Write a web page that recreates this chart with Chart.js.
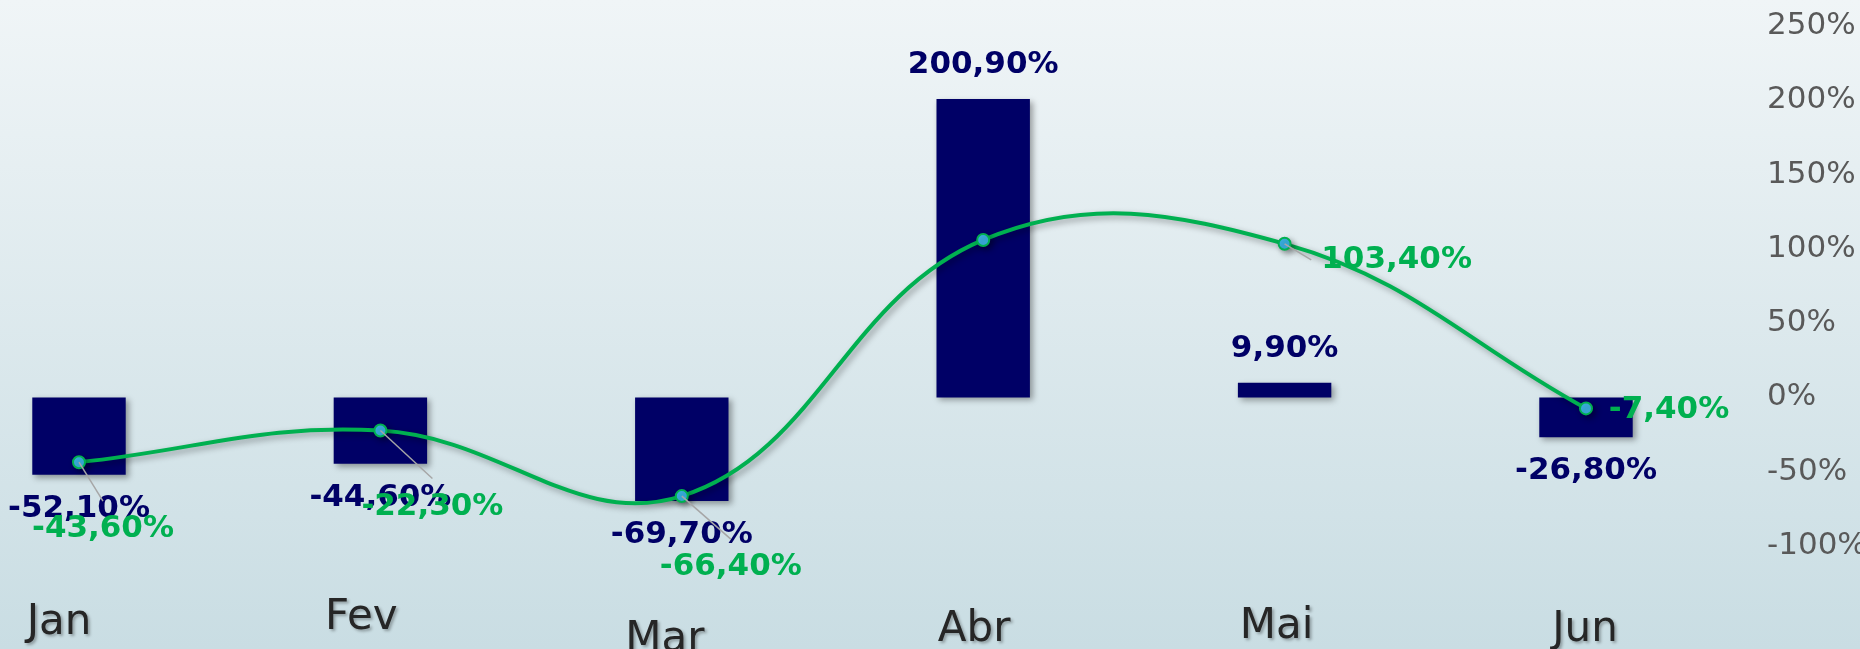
<!DOCTYPE html>
<html>
<head>
<meta charset="utf-8">
<script src="https://cdn.jsdelivr.net/npm/chart.js@4/dist/chart.umd.min.js"></script>
<style>
  html, body { margin: 0; padding: 0; }
  body { width: 1860px; height: 649px; overflow: hidden;
         background: linear-gradient(to bottom, #f0f5f7 0%, #c9dde3 100%); }
  #wrap { position: relative; width: 1860px; height: 649px; }
</style>
</head>
<body>
<div id="wrap"><canvas id="chart"></canvas></div>
<script>
'use strict';

// data
let months = ['Jan', 'Fev', 'Mar', 'Abr', 'Mai', 'Jun'];
let barValues = [-52.1, -44.6, -69.7, 200.9, 9.9, -26.8];
let lineValues = [-43.6, -22.3, -66.4, 106, 103.4, -7.4];
let yTicks = [-100, -50, 0, 50, 100, 150, 200, 250];

// styling
const navy = '#000066';
const green = '#00b050';
const fontFamily = '"DejaVu Sans", sans-serif';
const barLabelGap = 34;
// where Excel put the line labels, relative to the point (null = no label)
const lineLabelOffsets = [[24, 67], [52, 76], [49, 71], null, [112, 16], [83, 2]];
// the month labels are a bit out of line in the original
const xLabelShift = [[-20, 0], [-19, -5], [-17, 17], [-9, 7], [-8, 4], [-1, 7]];

function fmt(v) {
  return v.toFixed(2).replace('.', ',') + '%';
}

const shadowPlugin = {
  id: 'shadow',
  beforeDatasetDraw(chart) {
    const c = chart.ctx;
    c.save();
    c.shadowColor = 'rgba(0,0,0,0.35)';
    c.shadowBlur = 6;
    c.shadowOffsetX = 3;
    c.shadowOffsetY = 3;
  },
  afterDatasetDraw(chart) {
    chart.ctx.restore();
  }
};

// axis labels drawn by hand: right axis left aligned far from the plot, months shifted
const axisLabelPlugin = {
  id: 'axisLabels',
  afterDraw(chart) {
    const c = chart.ctx;
    const y = chart.scales.y;
    const x = chart.scales.x;
    c.save();
    c.font = '31px ' + fontFamily;
    c.fillStyle = '#595959';
    c.textAlign = 'left';
    c.textBaseline = 'middle';
    yTicks.forEach(v => {
      c.fillText(v + '%', 1767, y.getPixelForValue(v));
    });

    c.font = '42px ' + fontFamily;
    c.fillStyle = '#262626';
    c.textAlign = 'center';
    c.shadowColor = 'rgba(0,0,0,0.3)';
    c.shadowBlur = 3;
    c.shadowOffsetX = 2;
    c.shadowOffsetY = 2;
    months.forEach((m, i) => {
      let s = xLabelShift[i];
      c.fillText(m, x.getPixelForValue(i) + s[0], x.bottom - 26 + s[1]);
    });
    c.restore();
  }
};

const labelPlugin = {
  id: 'valueLabels',
  afterDatasetsDraw(chart) {
    const ctx = chart.ctx;
    ctx.save();
    ctx.font = 'bold 31px ' + fontFamily;
    ctx.textAlign = 'center';
    ctx.textBaseline = 'middle';

    chart.getDatasetMeta(0).data.forEach((bar, i) => {
      let v = barValues[i];
      let y = bar.y + (v < 0 ? barLabelGap : -barLabelGap);
      ctx.fillStyle = navy;
      ctx.fillText(fmt(v), bar.x, y);
    });

    chart.getDatasetMeta(1).data.forEach((pt, i) => {
      let off = lineLabelOffsets[i];
      if (!off) return;
      let lx = pt.x + off[0];
      let ly = pt.y + off[1];
      let text = fmt(lineValues[i]);
      let w = ctx.measureText(text).width;
      let ex, ey;
      if (off[1] > 40) {
        ex = lx; ey = ly - 28;
      } else {
        ex = lx - w / 2 - 10; ey = ly;
      }
      if (off[0] > 0 && Math.hypot(ex - pt.x, ey - pt.y) > 25) {
        ctx.strokeStyle = '#a6a6a6';
        ctx.lineWidth = 1.5;
        ctx.beginPath();
        ctx.moveTo(pt.x, pt.y);
        ctx.lineTo(ex, ey);
        ctx.stroke();
      }
      ctx.fillStyle = green;
      ctx.fillText(text, lx, ly);
    });
    ctx.restore();
  }
};

const ctx = document.getElementById('chart');

let config = {
  data: {
    labels: months,
    datasets: [
      {
        type: 'bar',
        data: barValues,
        backgroundColor: navy,
        barPercentage: 0.31,
        categoryPercentage: 1,
        clip: false,
        order: 2
      },
      {
        type: 'line',
        data: lineValues,
        borderColor: green,
        borderWidth: 4,
        tension: 0.4,
        pointRadius: 6,
        pointBackgroundColor: '#3bb4e5',
        pointBorderColor: green,
        pointBorderWidth: 2,
        clip: false,
        order: 1
      }
    ]
  },
  options: {
    responsive: true,
    maintainAspectRatio: false,
    animation: false,
    layout: { padding: { left: 79, top: 26, right: 0, bottom: 0 } },
    plugins: {
      legend: { display: false },
      tooltip: { enabled: false }
    },
    scales: {
      x: {
        offset: false,
        grid: { display: false, drawTicks: false },
        border: { display: false },
        ticks: { display: false },
        afterFit(scale) { scale.height = 103; }
      },
      y: {
        position: 'right',
        min: yTicks[0],
        max: yTicks[yTicks.length - 1],
        grid: { display: false, drawTicks: false },
        border: { display: false },
        ticks: { display: false },
        afterFit(scale) { scale.width = 274; }
      }
    }
  },
  plugins: [shadowPlugin, labelPlugin, axisLabelPlugin]
};

// eslint-disable-next-line no-undef
new Chart(ctx, config);
</script>
</body>
</html>
